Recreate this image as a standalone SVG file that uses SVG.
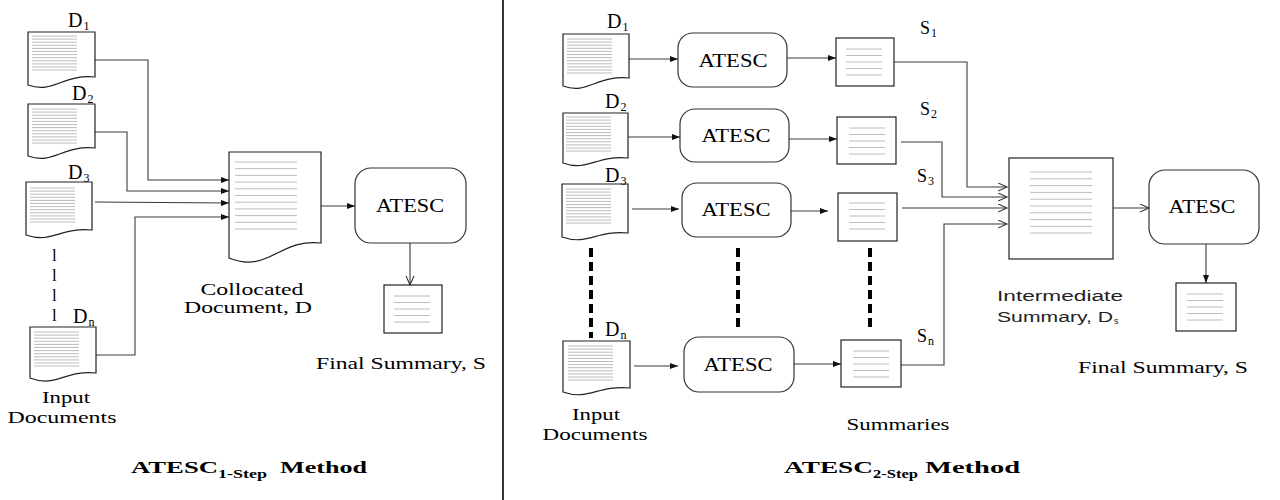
<svg xmlns="http://www.w3.org/2000/svg" xmlns:xlink="http://www.w3.org/1999/xlink" width="1280" height="500" viewBox="0 0 1280 500">
<style>
.bg{fill:#fff}
.doc{fill:#fff;stroke:#222;stroke-width:1.2}
.box{fill:#fff;stroke:#222;stroke-width:1.2}
.proc{fill:#fff;stroke:#333;stroke-width:1.2}
.tl{stroke:#b4b4b4;stroke-width:0.9}
.conn{fill:none;stroke:#3a3a3a;stroke-width:1.1}
.dash{fill:none;stroke:#000;stroke-width:4;stroke-dasharray:9 5}
.serif{font-family:"Liberation Serif","Times New Roman",serif;fill:#000}
.sans{font-family:"Liberation Sans",Arial,sans-serif;fill:#222}
.lab{font-size:18px}
.dl{font-size:20px}
.sub{font-size:12px}
.cap{font-size:17px}
.title{font-size:17px;font-weight:bold}
.tsub{font-size:12px;font-weight:bold}
</style>
<defs>
<marker id="aF" markerUnits="userSpaceOnUse" markerWidth="9" markerHeight="7" refX="8" refY="3" orient="auto"><path d="M0,0 L8,3 L0,6 z" fill="#111"/></marker>
<marker id="aO" markerUnits="userSpaceOnUse" markerWidth="11" markerHeight="10" refX="9" refY="4.5" orient="auto"><path d="M0,0.5 L9,4.5 L0,8.5" fill="none" stroke="#333" stroke-width="1.1"/></marker>
<g id="dense">
<line class="tl" x1="0" y1="0" x2="45" y2="0"/><line class="tl" x1="0" y1="3.1" x2="45" y2="3.1"/><line class="tl" x1="0" y1="6.2" x2="45" y2="6.2"/><line class="tl" x1="0" y1="9.3" x2="45" y2="9.3"/><line class="tl" x1="0" y1="12.4" x2="45" y2="12.4"/><line class="tl" x1="0" y1="15.5" x2="45" y2="15.5"/><line class="tl" x1="0" y1="18.6" x2="45" y2="18.6"/><line class="tl" x1="0" y1="21.7" x2="45" y2="21.7"/><line class="tl" x1="0" y1="24.8" x2="45" y2="24.8"/><line class="tl" x1="0" y1="27.9" x2="45" y2="27.9"/><line class="tl" x1="0" y1="31" x2="45" y2="31"/><line class="tl" x1="0" y1="34" x2="45" y2="34"/>
</g>
<g id="five">
<line class="tl" x1="0" y1="0" x2="36" y2="0"/><line class="tl" x1="0" y1="6.5" x2="36" y2="6.5"/><line class="tl" x1="0" y1="13" x2="36" y2="13"/><line class="tl" x1="0" y1="19.5" x2="36" y2="19.5"/><line class="tl" x1="0" y1="26" x2="36" y2="26"/>
</g>
</defs>
<rect class="bg" x="0" y="0" width="1280" height="500"/>
<line x1="503" y1="0" x2="503" y2="500" stroke="#000" stroke-width="1.6"/>

<g id="connectors">
<path class="conn" d="M95,60 H148 V180 H229" marker-end="url(#aF)"/>
<path class="conn" d="M95,132 H127 V191 H229" marker-end="url(#aF)"/>
<path class="conn" d="M95,202 L229,203" marker-end="url(#aF)"/>
<path class="conn" d="M96,355 H135 V217 H229" marker-end="url(#aF)"/>
<path class="conn" d="M321,206 H355" marker-end="url(#aF)"/>
<path class="conn" d="M410,243 V285" marker-end="url(#aO)"/>
<path class="conn" d="M629,59 H678" marker-end="url(#aF)"/>
<path class="conn" d="M787,58 H836" marker-end="url(#aF)"/>
<path class="conn" d="M628,137 H680" marker-end="url(#aF)"/>
<path class="conn" d="M789,139 H837" marker-end="url(#aF)"/>
<path class="conn" d="M632,209 H679" marker-end="url(#aF)"/>
<path class="conn" d="M791,211 H828" marker-end="url(#aF)"/>
<path class="conn" d="M634,366 H678" marker-end="url(#aF)"/>
<path class="conn" d="M794,364 H841" marker-end="url(#aF)"/>
<path class="conn" d="M894,62 H967 V187 H1007" marker-end="url(#aO)"/>
<path class="conn" d="M901,142 H942 V197 H1007" marker-end="url(#aO)"/>
<path class="conn" d="M902,208 H1007" marker-end="url(#aO)"/>
<path class="conn" d="M901,365 H944 V224 H1007" marker-end="url(#aO)"/>
<path class="conn" d="M1113,208 H1149" marker-end="url(#aO)"/>
<path class="conn" d="M1206,244 V283" marker-end="url(#aF)"/>
<line class="dash" x1="591" y1="248" x2="591" y2="338"/>
<line class="dash" x1="738" y1="248" x2="738" y2="330"/>
<line class="dash" x1="870" y1="248" x2="870" y2="329"/>
</g>

<!-- Left panel -->
<g id="L-D1">
<path class="doc" d="M28,32 H95 V77 C62,74 54,94 28,85 Z"/>
<use xlink:href="#dense" x="32" y="36"/>
<text class="serif dl" x="68" y="27">D<tspan class="sub" dx="1" dy="3">1</tspan></text>
</g>
<g id="L-D2">
<path class="doc" d="M28,104 H95 V148 C62,145 54,165 28,156 Z"/>
<use xlink:href="#dense" x="32" y="109"/>
<text class="serif dl" x="72" y="100">D<tspan class="sub" dx="1" dy="3">2</tspan></text>
</g>
<g id="L-D3">
<path class="doc" d="M26,182 H92 V230 C60,227 52,244 26,235 Z"/>
<use xlink:href="#dense" x="30" y="188"/>
<text class="serif dl" x="68" y="179">D<tspan class="sub" dx="1" dy="3">3</tspan></text>
</g>
<g id="L-dots">
<text class="serif cap" x="52" y="261">l</text>
<text class="serif cap" x="52" y="281">l</text>
<text class="serif cap" x="52" y="301">l</text>
<text class="serif cap" x="52" y="321">l</text>
</g>
<g id="L-Dn">
<path class="doc" d="M30,327 H96 V373 C64,370 56,388 30,378 Z"/>
<use xlink:href="#dense" x="34" y="332"/>
<text class="serif dl" x="73" y="323">D<tspan class="sub" dx="1" dy="3">n</tspan></text>
</g>
<g id="L-input-label">
<text class="serif cap" x="66" y="403" text-anchor="middle" textLength="48" lengthAdjust="spacingAndGlyphs">Input</text>
<text class="serif cap" x="62" y="423" text-anchor="middle" textLength="109" lengthAdjust="spacingAndGlyphs">Documents</text>
</g>
<g id="L-collocated">
<path class="doc" d="M229,152 H321 V243 C280,238 268,274 229,258 Z"/>
<line class="tl" x1="235" y1="162" x2="297" y2="162"/><line class="tl" x1="235" y1="168.7" x2="297" y2="168.7"/><line class="tl" x1="235" y1="175.4" x2="297" y2="175.4"/><line class="tl" x1="235" y1="182.1" x2="297" y2="182.1"/><line class="tl" x1="235" y1="188.8" x2="297" y2="188.8"/><line class="tl" x1="235" y1="195.5" x2="297" y2="195.5"/><line class="tl" x1="235" y1="202.2" x2="297" y2="202.2"/><line class="tl" x1="235" y1="208.9" x2="297" y2="208.9"/><line class="tl" x1="235" y1="215.6" x2="297" y2="215.6"/><line class="tl" x1="235" y1="222.3" x2="297" y2="222.3"/><line class="tl" x1="235" y1="229" x2="297" y2="229"/>
<text class="serif cap" x="252" y="295" text-anchor="middle" textLength="103" lengthAdjust="spacingAndGlyphs">Collocated</text>
<text class="serif cap" x="248" y="313" text-anchor="middle" textLength="128" lengthAdjust="spacingAndGlyphs">Document, D</text>
</g>
<g id="L-atesc">
<rect class="proc" x="355" y="168" width="111" height="75" rx="16"/>
<text class="serif lab" x="410" y="212" text-anchor="middle" textLength="68" lengthAdjust="spacingAndGlyphs">ATESC</text>
</g>
<g id="L-final">
<rect class="box" x="384" y="285" width="58" height="48"/>
<use xlink:href="#five" x="394" y="296"/>
<text class="serif cap" x="316" y="369" textLength="170" lengthAdjust="spacingAndGlyphs">Final Summary,  S</text>
</g>
<g id="L-title">
<text class="serif title" x="131" y="473" textLength="87" lengthAdjust="spacingAndGlyphs">ATESC</text>
<text class="serif tsub" x="218" y="478" textLength="49" lengthAdjust="spacingAndGlyphs">1-Step</text>
<text class="serif title" x="280" y="473" textLength="87" lengthAdjust="spacingAndGlyphs">Method</text>
</g>

<!-- Right panel -->
<g id="R-D1">
<path class="doc" d="M563,34 H629 V78 C596,75 588,95 563,86 Z"/>
<use xlink:href="#dense" x="567" y="39"/>
<text class="serif dl" x="607" y="28">D<tspan class="sub" dx="1" dy="3">1</tspan></text>
</g>
<g id="R-D2">
<path class="doc" d="M563,113 H628 V158 C596,155 588,172 563,163 Z"/>
<use xlink:href="#dense" x="566" y="117"/>
<text class="serif dl" x="605" y="108">D<tspan class="sub" dx="1" dy="3">2</tspan></text>
</g>
<g id="R-D3">
<path class="doc" d="M562,184 H628 V233 C596,230 588,246 562,237 Z"/>
<use xlink:href="#dense" x="566" y="189"/>
<text class="serif dl" x="605" y="182">D<tspan class="sub" dx="1" dy="3">3</tspan></text>
</g>
<g id="R-Dn">
<path class="doc" d="M563,341 H630 V388 C597,385 589,401 563,392 Z"/>
<use xlink:href="#dense" x="568" y="346"/>
<text class="serif dl" x="605" y="336">D<tspan class="sub" dx="1" dy="3">n</tspan></text>
</g>
<g id="R-input-label">
<text class="serif cap" x="596" y="420" text-anchor="middle" textLength="48" lengthAdjust="spacingAndGlyphs">Input</text>
<text class="serif cap" x="595" y="440" text-anchor="middle" textLength="105" lengthAdjust="spacingAndGlyphs">Documents</text>
</g>
<g id="R-atesc1">
<rect class="proc" x="678" y="33" width="109" height="54" rx="15"/>
<text class="serif lab" x="733" y="67" text-anchor="middle" textLength="69" lengthAdjust="spacingAndGlyphs">ATESC</text>
</g>
<g id="R-atesc2">
<rect class="proc" x="680" y="109" width="109" height="53" rx="15"/>
<text class="serif lab" x="736" y="142" text-anchor="middle" textLength="69" lengthAdjust="spacingAndGlyphs">ATESC</text>
</g>
<g id="R-atesc3">
<rect class="proc" x="682" y="183" width="109" height="54" rx="15"/>
<text class="serif lab" x="736" y="216" text-anchor="middle" textLength="69" lengthAdjust="spacingAndGlyphs">ATESC</text>
</g>
<g id="R-atescn">
<rect class="proc" x="684" y="337" width="110" height="55" rx="15"/>
<text class="serif lab" x="738" y="371" text-anchor="middle" textLength="69" lengthAdjust="spacingAndGlyphs">ATESC</text>
</g>
<g id="R-S1">
<rect class="box" x="836" y="38" width="58" height="48"/>
<use xlink:href="#five" x="846" y="49"/>
<text class="serif lab" x="920" y="34">S<tspan class="sub" dx="1" dy="3">1</tspan></text>
</g>
<g id="R-S2">
<rect class="box" x="837" y="117" width="59" height="47"/>
<use xlink:href="#five" x="849" y="128"/>
<text class="serif lab" x="920" y="115">S<tspan class="sub" dx="1" dy="3">2</tspan></text>
</g>
<g id="R-S3">
<rect class="box" x="838" y="193" width="59" height="48"/>
<use xlink:href="#five" x="849" y="203"/>
<text class="serif lab" x="917" y="182">S<tspan class="sub" dx="1" dy="3">3</tspan></text>
</g>
<g id="R-Sn">
<rect class="box" x="841" y="340" width="60" height="47"/>
<use xlink:href="#five" x="853" y="351"/>
<text class="serif lab" x="917" y="342">S<tspan class="sub" dx="1" dy="3">n</tspan></text>
</g>
<g id="R-summaries-label">
<text class="serif cap" x="898" y="430" text-anchor="middle" textLength="103" lengthAdjust="spacingAndGlyphs">Summaries</text>
</g>
<g id="R-intermediate">
<rect class="box" x="1009" y="158" width="104" height="101"/>
<line class="tl" x1="1030" y1="172" x2="1092" y2="172"/><line class="tl" x1="1030" y1="178.8" x2="1092" y2="178.8"/><line class="tl" x1="1030" y1="185.6" x2="1092" y2="185.6"/><line class="tl" x1="1030" y1="192.4" x2="1092" y2="192.4"/><line class="tl" x1="1030" y1="199.2" x2="1092" y2="199.2"/><line class="tl" x1="1030" y1="206" x2="1092" y2="206"/><line class="tl" x1="1030" y1="212.8" x2="1092" y2="212.8"/><line class="tl" x1="1030" y1="219.6" x2="1092" y2="219.6"/><line class="tl" x1="1030" y1="226.4" x2="1092" y2="226.4"/><line class="tl" x1="1030" y1="233" x2="1092" y2="233"/>
<text class="sans" font-size="14" x="997" y="301" textLength="126" lengthAdjust="spacingAndGlyphs">Intermediate</text>
<text class="sans" font-size="14" x="997" y="322" textLength="116" lengthAdjust="spacingAndGlyphs">Summary, D</text>
<text class="sans" font-size="9" x="1114" y="324">s</text>
</g>
<g id="R-atesc-final">
<rect class="proc" x="1149" y="170" width="110" height="74" rx="16"/>
<text class="serif lab" x="1202" y="213" text-anchor="middle" textLength="67" lengthAdjust="spacingAndGlyphs">ATESC</text>
</g>
<g id="R-final">
<rect class="box" x="1176" y="283" width="60" height="48"/>
<use xlink:href="#five" x="1187" y="294"/>
<text class="serif cap" x="1078" y="373" textLength="170" lengthAdjust="spacingAndGlyphs">Final Summary,  S</text>
</g>
<g id="R-title">
<text class="serif title" x="784" y="473" textLength="89" lengthAdjust="spacingAndGlyphs">ATESC</text>
<text class="serif tsub" x="873" y="478" textLength="45" lengthAdjust="spacingAndGlyphs">2-Step</text>
<text class="serif title" x="925" y="473" textLength="95" lengthAdjust="spacingAndGlyphs">Method</text>
</g>
</svg>
